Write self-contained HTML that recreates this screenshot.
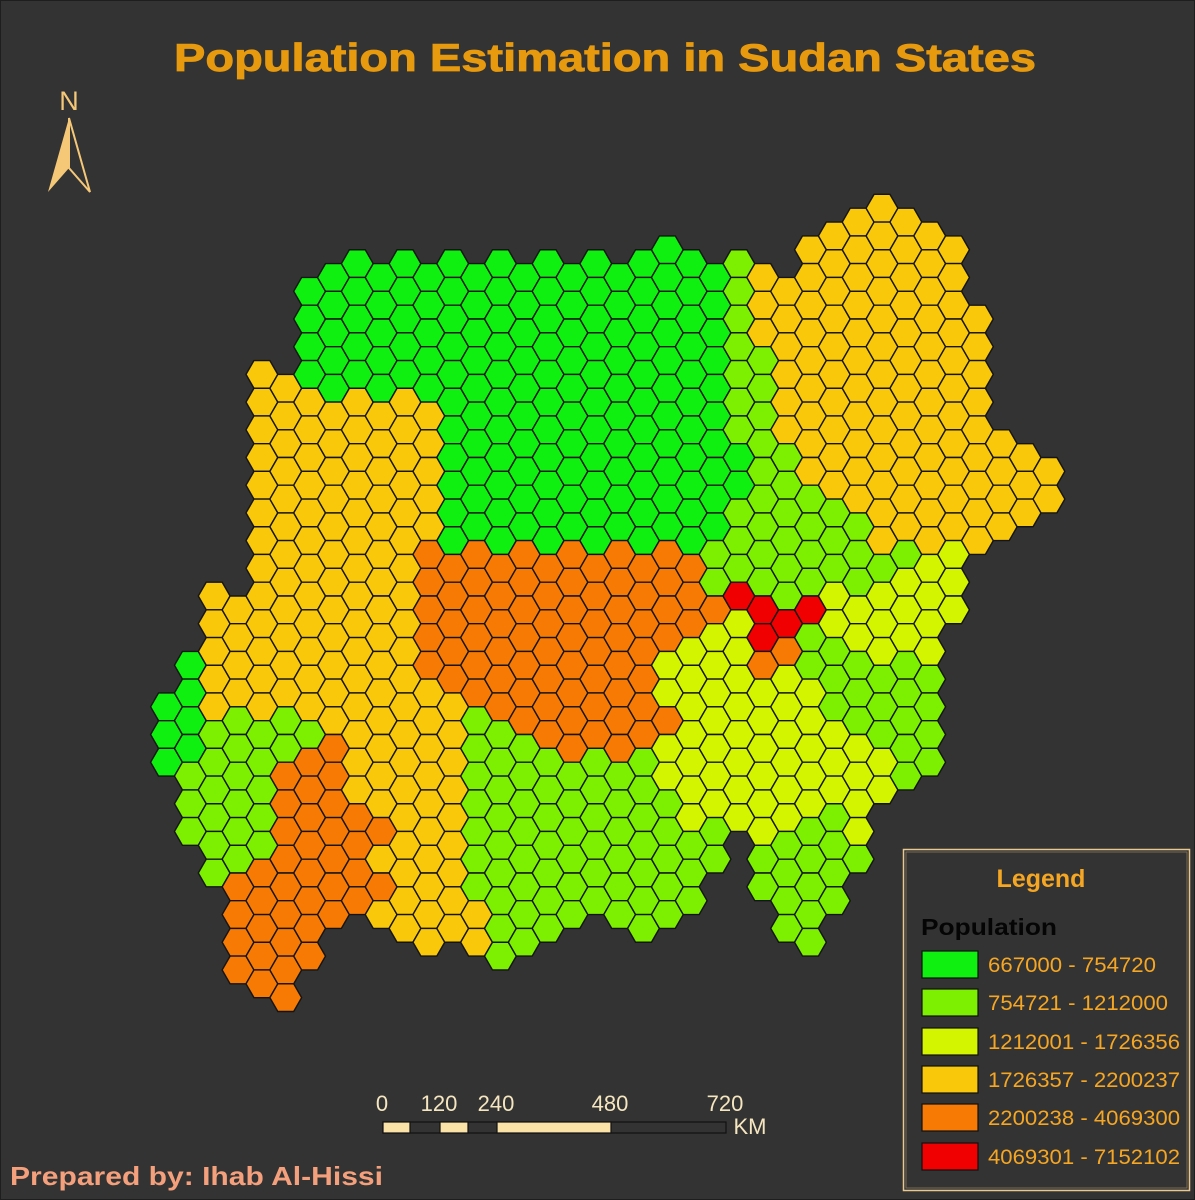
<!DOCTYPE html>
<html><head><meta charset="utf-8"><style>
html,body{margin:0;padding:0;background:#333333;}
svg{display:block;}
</style></head><body>
<svg id="s" xmlns="http://www.w3.org/2000/svg" width="1195" height="1200" viewBox="0 0 1195 1200">
<rect x="0" y="0" width="1195" height="1200" fill="#333333"/>
<rect x="0.5" y="0.5" width="1194" height="1199" fill="none" stroke="#1e1e1e" stroke-width="1"/>
<text x="174" y="71" font-family="Liberation Sans, sans-serif" font-weight="bold" font-size="39" fill="#E89A0E" stroke="#E89A0E" stroke-width="0.8" textLength="862" lengthAdjust="spacingAndGlyphs">Population Estimation in Sudan States</text>
<!-- north arrow -->
<text x="69" y="110" font-family="Liberation Sans, sans-serif" font-size="27" fill="#F5C878" text-anchor="middle">N</text>
<polygon points="69,118 48,192 69,168" fill="#F5C878"/>
<polygon points="69,118 90,192 69,168" fill="none" stroke="#F5C878" stroke-width="2"/>
<g id="hex"></g>
<!-- scale bar -->
<g font-family="Liberation Sans, sans-serif" font-size="22" fill="#F5E6C0" text-anchor="middle">
<text x="382" y="1111">0</text><text x="439" y="1111">120</text><text x="496" y="1111">240</text><text x="610" y="1111">480</text><text x="725" y="1111">720</text>
<text x="750" y="1134">KM</text></g>
<rect x="383" y="1122" width="343" height="11" fill="#333" stroke="#111" stroke-width="1.2"/>
<rect x="383" y="1122" width="27" height="11" fill="#FBE3A8" stroke="#111" stroke-width="1.2"/>
<rect x="440" y="1122" width="28" height="11" fill="#FBE3A8" stroke="#111" stroke-width="1.2"/>
<rect x="497" y="1122" width="114" height="11" fill="#FBE3A8" stroke="#111" stroke-width="1.2"/>
<line x1="410" y1="1122" x2="410" y2="1133" stroke="#111"/>
<line x1="468" y1="1122" x2="468" y2="1133" stroke="#111"/>
<text x="10" y="1185" font-family="Liberation Sans, sans-serif" font-weight="bold" font-size="26" fill="#F4A07C" textLength="373" lengthAdjust="spacingAndGlyphs">Prepared by: Ihab Al-Hissi</text>
<!-- legend -->
<rect x="903.5" y="849.5" width="286" height="341" fill="#333" stroke="#E8C890" stroke-width="1.5"/>
<rect x="906" y="852" width="281" height="336" fill="none" stroke="#8a7656" stroke-width="0.8"/>
<text x="1041" y="887" font-family="Liberation Sans, sans-serif" font-weight="bold" font-size="25" fill="#F5A623" text-anchor="middle">Legend</text>
<text x="921" y="935" font-family="Liberation Sans, sans-serif" font-weight="bold" font-size="23" fill="#050505" textLength="136" lengthAdjust="spacingAndGlyphs">Population</text>
<g stroke="#111" stroke-width="1.2">
<rect x="922" y="951" width="56" height="27" fill="#10F010"/>
<rect x="922" y="989" width="56" height="27" fill="#7CF000"/>
<rect x="922" y="1028" width="56" height="27" fill="#D4F500"/>
<rect x="922" y="1066" width="56" height="27" fill="#F9C80A"/>
<rect x="922" y="1104" width="56" height="27" fill="#F77A05"/>
<rect x="922" y="1143" width="56" height="27" fill="#F00000"/>
</g>
<g font-family="Liberation Sans, sans-serif" font-size="21" fill="#F5A623" lengthAdjust="spacingAndGlyphs">
<text x="988" y="972" textLength="168" lengthAdjust="spacingAndGlyphs">667000 - 754720</text>
<text x="988" y="1010" textLength="180" lengthAdjust="spacingAndGlyphs">754721 - 1212000</text>
<text x="988" y="1049" textLength="192" lengthAdjust="spacingAndGlyphs">1212001 - 1726356</text>
<text x="988" y="1087" textLength="192" lengthAdjust="spacingAndGlyphs">1726357 - 2200237</text>
<text x="988" y="1125" textLength="192" lengthAdjust="spacingAndGlyphs">2200238 - 4069300</text>
<text x="988" y="1164" textLength="192" lengthAdjust="spacingAndGlyphs">4069301 - 7152102</text>
</g>
</svg>
<script>
var C={G:"#10F010",L:"#7CF000",Y:"#D4F500",A:"#F9C80A",O:"#F77A05",R:"#F00000"};
var cols=[
"G18-20","G16-19 L20-22","A14-18 L19-24","A14-17 L18-23 O24-27","A6-18 L19-23 O24-28",
"A6-17 L18-19 O20-28","G3-6 A7-18 L19-19 O20-27","G2-6 A7-18 O19-25","G2-6 A7-21 O22-25",
"G2-6 A7-21 O22-22 A23-23 O24-24 A25-25","G2-6 A7-26","G2-6 A7-11 O12-16 A17-26",
"G2-12 O13-17 A18-26","G2-11 O12-17 L18-24 A25-26","G2-12 O13-18 L19-27","G2-11 O12-18 L19-26",
"G2-12 O13-19 L20-26","G2-11 O12-19 L20-25","G2-12 O13-19 L20-25","G2-11 O12-19 L20-25",
"G2-12 O13-19 L20-26","G1-11 O12-15 Y16-17 O18-18 Y19-20 L21-25","G2-12 O13-15 Y16-22 L23-25",
"G2-11 L12-13 O14-14 Y15-21 L22-23","L2-8 G9-10 L11-13 R14-14 Y15-22",
"A2-4 L5-13 R14-15 O16-16 Y17-22 L23-24","A3-8 L9-14 R15-15 O16-16 Y17-22 L23-26",
"A1-9 L10-13 R14-14 L15-16 Y17-21 L22-26","A1-10 L11-13 Y14-15 L16-18 Y19-21 L22-25",
"A0-10 L11-13 Y14-15 L16-18 Y19-22 L23-23","A0-12 L13-13 Y14-16 L17-19 Y20-21",
"A0-11 L12-12 Y13-15 L16-20","A1-12 Y13-16 L17-20","A1-11 Y12-14","A4-12","A8-11","A9-11","A9-10"];
var g=document.getElementById("hex"),R=15.9,H=13.85,out="";
cols.forEach(function(s,c){
 var cx=166.5+23.85*c;
 s.split(" ").forEach(function(seg){
  var col=C[seg[0]],p=seg.slice(1).split("-"),a=+p[0],b=+p[1];
  for(var r=a;r<=b;r++){
   var cy=(c%2? 222.05:208.2)+27.7*r;
   var pts=[[cx-R,cy],[cx-R/2,cy-H],[cx+R/2,cy-H],[cx+R,cy],[cx+R/2,cy+H],[cx-R/2,cy+H]].map(function(q){return q[0].toFixed(2)+","+q[1].toFixed(2)}).join(" ");
   out+='<polygon points="'+pts+'" fill="'+col+'" stroke="#141414" stroke-width="1.4"/>';
  }
 });
});
g.innerHTML=out;
</script>
</body></html>
